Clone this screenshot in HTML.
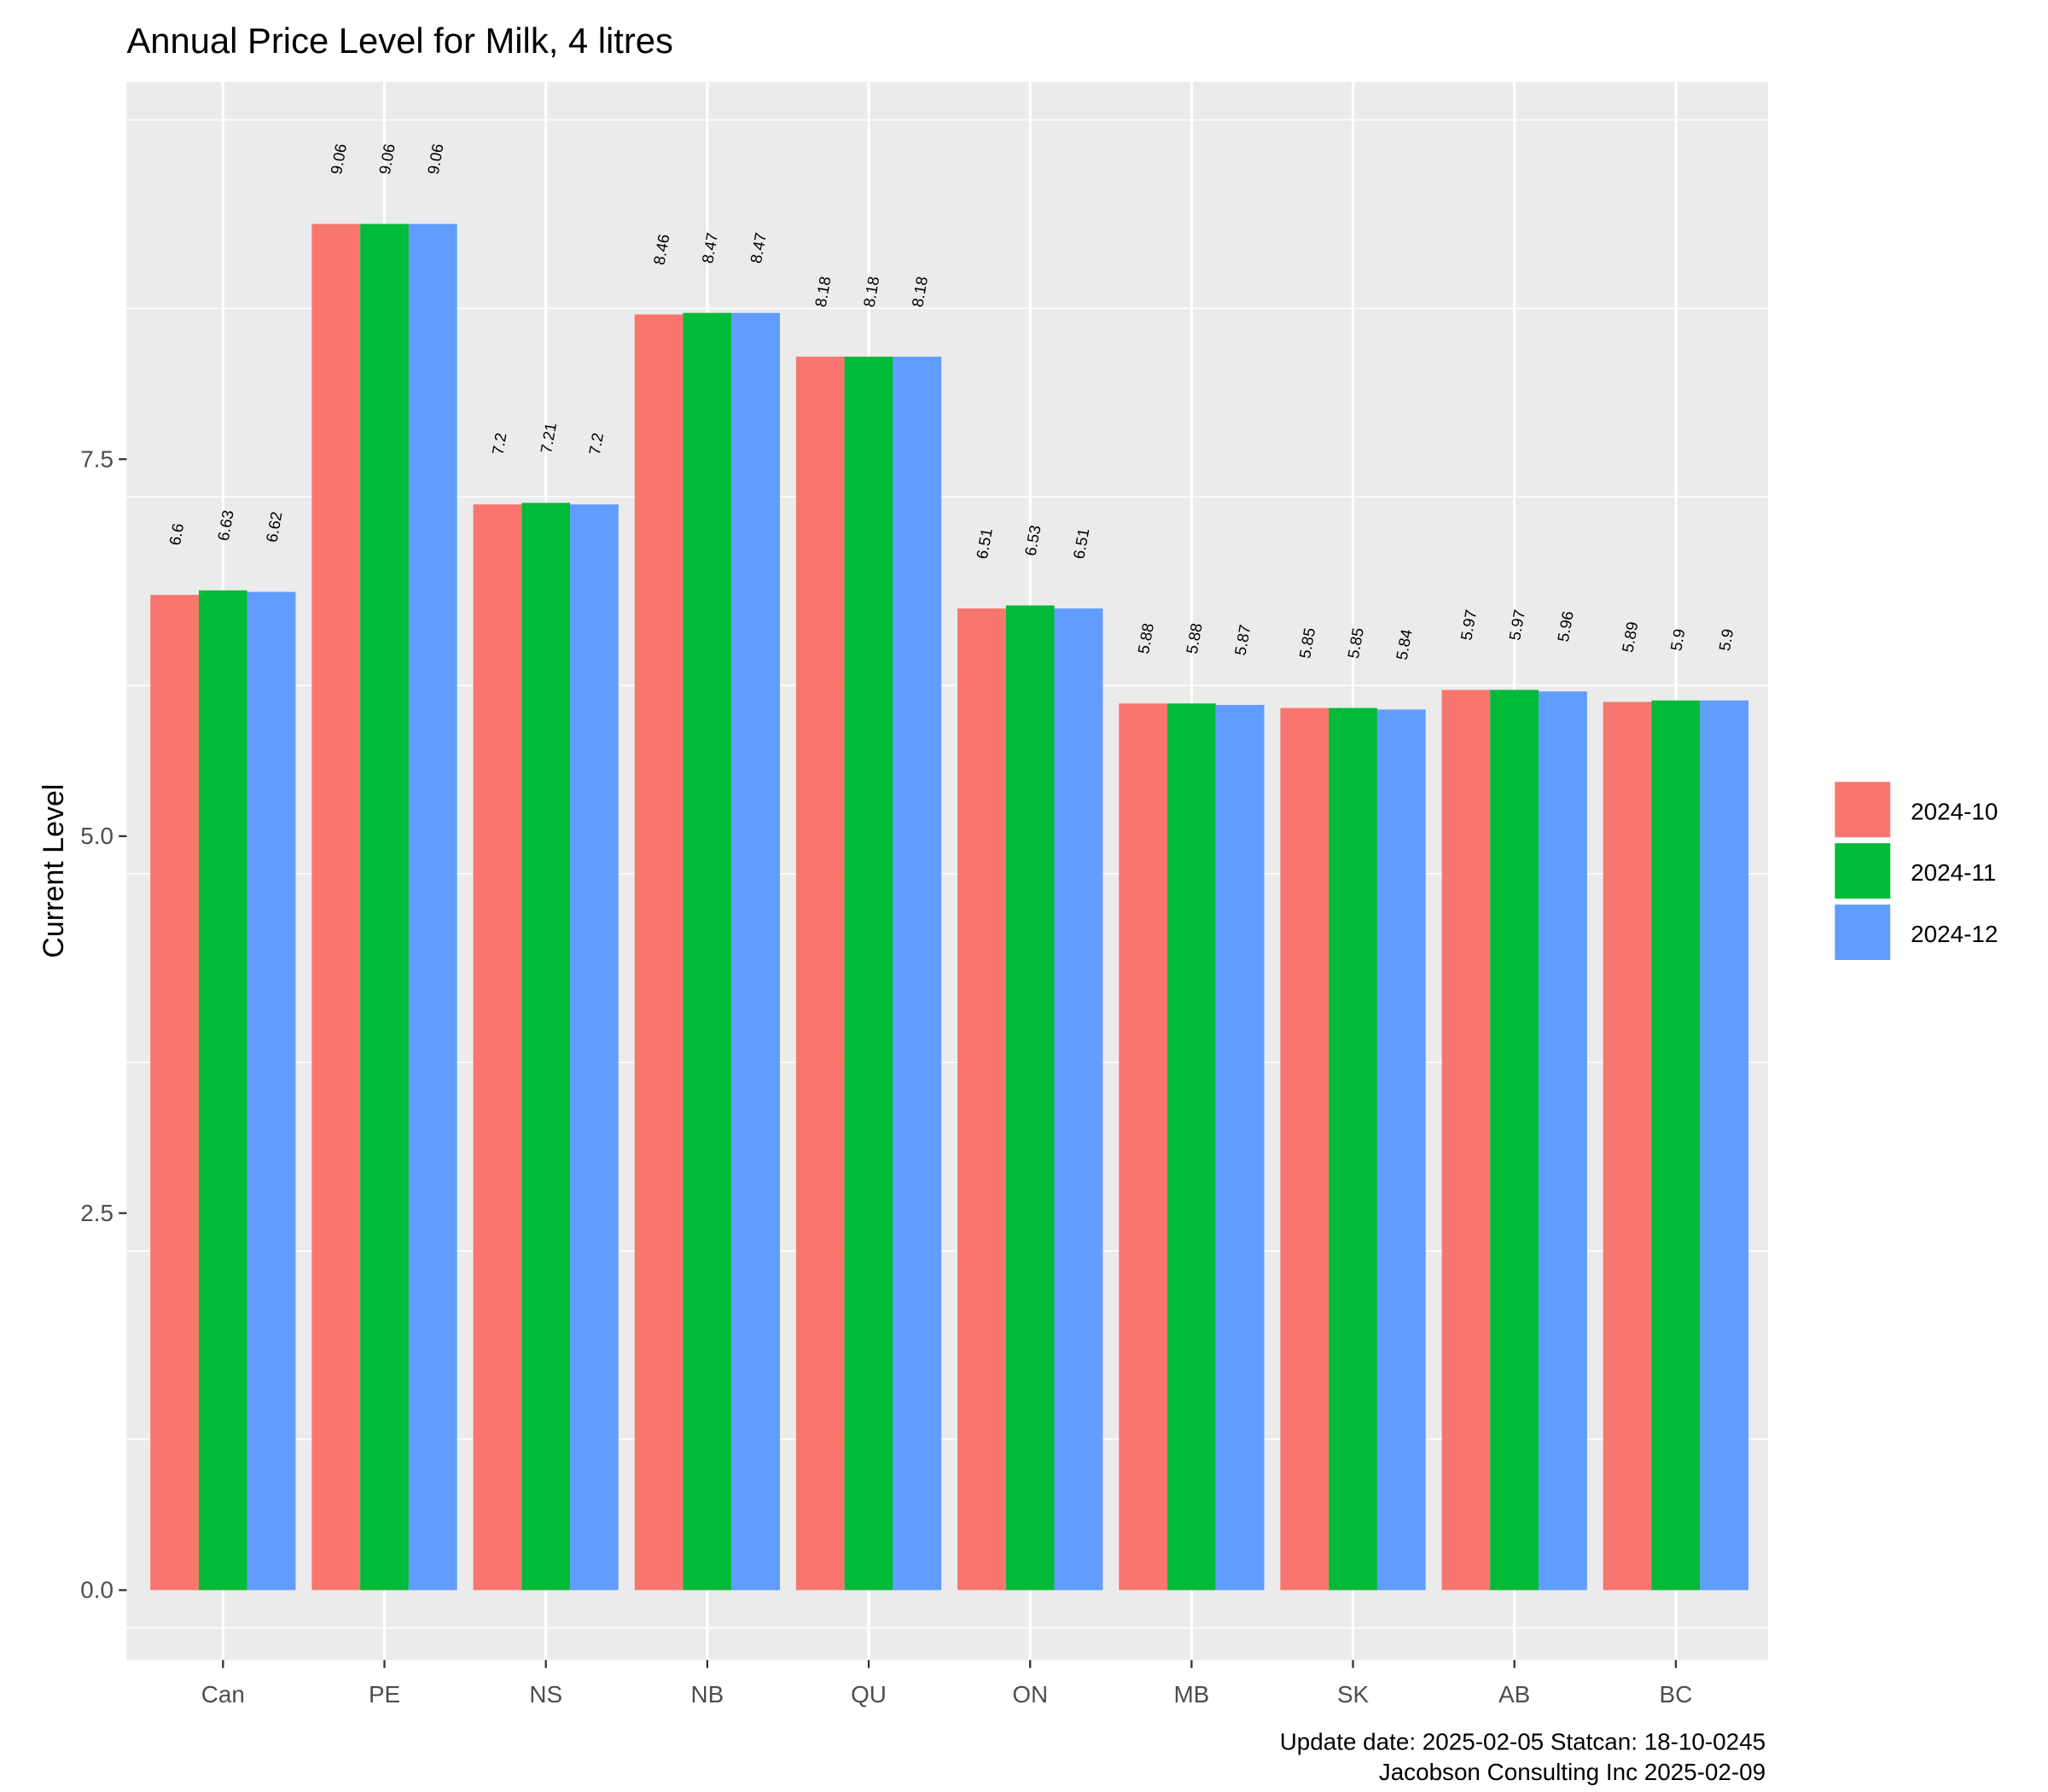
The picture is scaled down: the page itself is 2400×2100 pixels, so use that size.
<!DOCTYPE html>
<html><head><meta charset="utf-8"><style>
html,body{margin:0;padding:0;background:#fff}
svg{display:block;font-family:"Liberation Sans",Arial,sans-serif}
</style></head><body>
<svg id="chart" width="2400" height="2100" viewBox="0 0 1552 1358" preserveAspectRatio="none">
<rect width="1552" height="1358" fill="#fff"/>
<text x="96" y="40" font-size="27" fill="#000">Annual Price Level for Milk, 4 litres</text>
<rect x="96" y="62" width="1244" height="1196" fill="#ebebeb"/>
<g id="grid"></g>
<g id="bars"></g>
<g id="labels"></g>
<g id="axes"></g>
<text transform="translate(48,660) rotate(-90)" text-anchor="middle" font-size="22" fill="#000">Current Level</text>
<g id="legend"></g>
<text x="1338" y="1326" text-anchor="end" font-size="18" fill="#000">Update date: 2025-02-05 Statcan: 18-10-0245</text>
<text x="1338" y="1349" text-anchor="end" font-size="18" fill="#000">Jacobson Consulting Inc 2025-02-09</text>
</svg>
<script>
const categories=["Can","PE","NS","NB","QU","ON","MB","SK","AB","BC"];
const seriesNames=["2024-10","2024-11","2024-12"];
const s1=[6.6,9.06,7.2,8.46,8.18,6.51,5.88,5.85,5.97,5.89];
const s2=[6.63,9.06,7.21,8.47,8.18,6.53,5.88,5.85,5.97,5.9];
const s3=[6.62,9.06,7.2,8.47,8.18,6.51,5.87,5.84,5.96,5.9];
const yTicks=[0,2.5,5,7.5];
const yTickLabels=["0.0","2.5","5.0","7.5"];
const colors=["#F8766D","#00BA38","#619CFF"];
const NS="http://www.w3.org/2000/svg";
const y=v=>1205-v*114.27;
const x=i=>169+i*122.33;
const bw=36.7;
function mk(t,a,p){const e=document.createElementNS(NS,t);for(const k in a)e.setAttribute(k,a[k]);p.appendChild(e);return e;}
const grid=document.getElementById('grid'),axes=document.getElementById('axes');
for(let v=-0.25;v<=10;v+=1.25){const yy=y(v);if(yy<62||yy>1258)continue;
 const major=yTicks.some(t=>Math.abs(t-v)<1e-6);
 const l=mk('line',{x1:96,x2:1340,y1:yy,y2:yy,stroke:'#fff','stroke-width':major?2:1},grid);
 
 }
categories.forEach((c,i)=>{const l=mk('line',{x1:x(i),x2:x(i),y1:62,y2:1258,stroke:'#fff','stroke-width':2},grid);
 
 
 const tk=mk('line',{x1:x(i),x2:x(i),y1:1258,y2:1264,stroke:'#333','stroke-width':1.5},axes);
 
 
 const t=mk('text',{x:x(i),y:1290,'text-anchor':'middle','font-size':18,fill:'#4d4d4d'},axes);
 t.textContent=c;
 
 });
yTicks.forEach((v,i)=>{const tk=mk('line',{x1:90,x2:96,y1:y(v),y2:y(v),stroke:'#333','stroke-width':1.5},axes);
 
 
 const t=mk('text',{x:86,y:y(v)+6,'text-anchor':'end','font-size':18,fill:'#4d4d4d'},axes);
 t.textContent=yTickLabels[i];
 
 });
const bars=document.getElementById('bars'),labels=document.getElementById('labels');
[s1,s2,s3].forEach((s,k)=>{s.forEach((v,i)=>{
 const bx=x(i)-1.5*bw+k*bw;
 const r=mk('rect',{x:bx,y:y(v),width:bw,height:y(0)-y(v),fill:colors[k]},bars);
 
 
 const cx=bx+bw/2+4, cy=y(v)-37;
 const t=mk('text',{x:cx,y:cy,'font-size':12,fill:'#000',transform:`rotate(-80 ${cx} ${cy})`},labels);
 t.textContent=String(v);
 
 });});
const lg=document.getElementById('legend');
seriesNames.forEach((n,k)=>{const yy=592+k*46.5;
 const r=mk('rect',{x:1390,y:yy,width:43,height:43,fill:colors[k],stroke:'#fff','stroke-width':1},lg);
 
 
 const t=mk('text',{x:1448,y:yy+29,'font-size':18,fill:'#000'},lg);
 t.textContent=n;
 
 });
</script>
</body></html>
